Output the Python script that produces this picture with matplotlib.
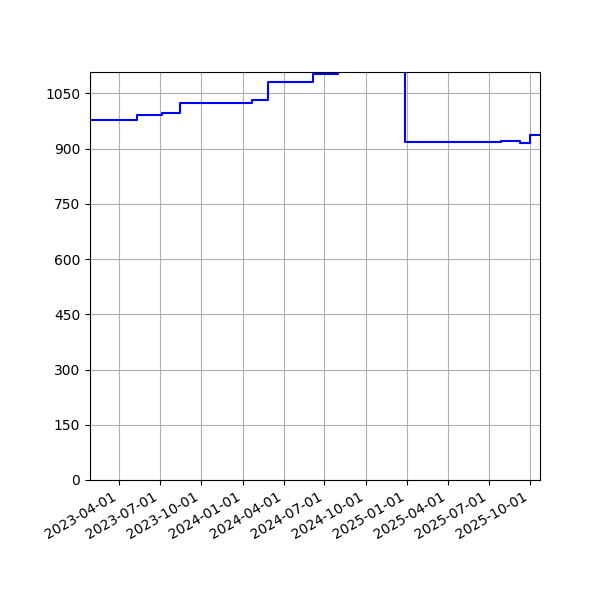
import numpy as np
import pandas as pd
import matplotlib
matplotlib.use("Agg")
import matplotlib.pyplot as plt
import matplotlib.dates as mdates

# step change dates and the value that holds from each date on
change_dates = ["2023-01-27", "2023-05-11", "2023-07-05", "2023-08-14",
                "2024-01-23", "2024-02-26", "2024-06-06", "2024-07-30",
                "2024-10-15", "2024-12-27", "2025-03-04", "2025-07-29",
                "2025-09-08", "2025-09-30", "2025-10-23"]
values = [978, 990, 996, 1024,
          1032, 1081, 1102, 1130,
          1160, 919, 917, 920,
          915, 937, 937]

y_ticks = np.arange(0, 1051, 150)

dates = pd.to_datetime(change_dates)

fig, ax = plt.subplots(figsize=(6, 6), dpi=100)
ax.step(dates, values, where='post', color='b')

ax.set_xlim(dates[0], dates[-1])
ax.set_ylim(0, 1108)
ax.set_yticks(y_ticks)
ax.xaxis.set_major_locator(mdates.MonthLocator(bymonth=[1, 4, 7, 10]))
ax.xaxis.set_major_formatter(mdates.DateFormatter('%Y-%m-%d'))
ax.grid(True)

fig.autofmt_xdate()
fig.subplots_adjust(left=0.15, right=0.9, top=0.88, bottom=0.2)

plt.savefig("out.png")
